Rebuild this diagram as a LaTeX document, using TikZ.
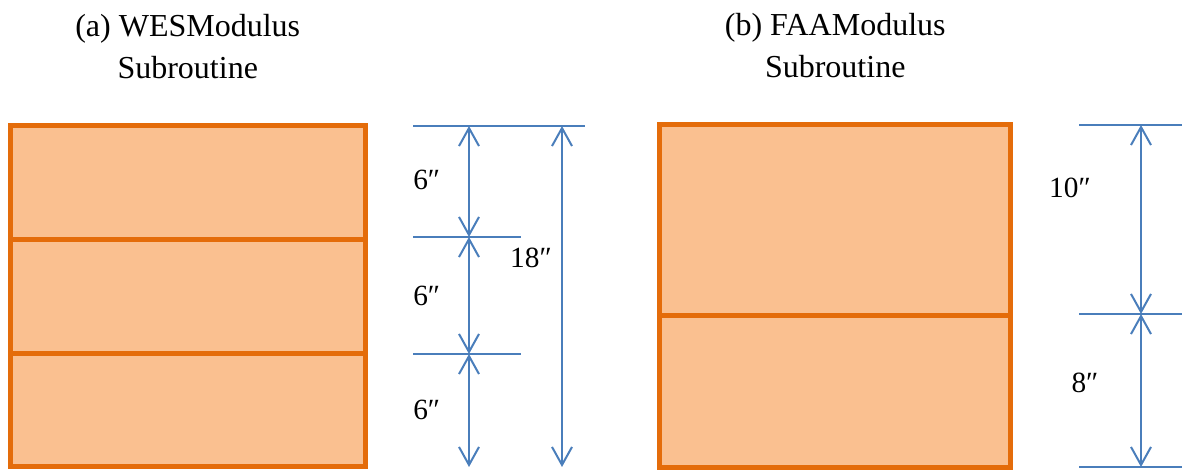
\documentclass[tikz,border=0pt]{standalone}
\usepackage{fontspec}
\setmainfont{Liberation Serif}
\usetikzlibrary{arrows.meta,positioning}
\definecolor{LayerOrange}{RGB}{228,108,10}
\definecolor{SoftOrange}{RGB}{250,192,144}
\definecolor{DimBlue}{RGB}{74,126,187}
\tikzset{
  layer/.style={draw=LayerOrange,fill=SoftOrange,line width=3.75pt,
    outer sep=0pt,inner sep=0pt},
  weslayer/.style={layer,minimum width=265.9pt,minimum height=85.25pt},
  faalayer/.style={layer,minimum width=263.6pt},
  title/.style={font=\fontsize{24}{31.5}\selectfont,align=center,inner sep=0pt},
  dimlabel/.style={font=\fontsize{22}{26}\selectfont,inner sep=0pt},
  dimline/.style={DimBlue,line width=1.5pt},
  dimarrow/.style={{Straight Barb[length=13.5pt,width=15pt]}-{Straight Barb[length=13.5pt,width=15pt]},
    DimBlue,line width=1.5pt}
}

\begin{document}
\begin{tikzpicture}[x=0.75pt,y=0.75pt,node distance=0pt]
  \useasboundingbox (0,0) rectangle (1182,470);

  % (a) three equal layers
  \node[weslayer] (wes1) at (187.75,287.2) {};
  \node[weslayer,below=of wes1] (wes2) {};
  \node[weslayer,below=of wes2] (wes3) {};
  \node[title,above=35pt of wes1] (titleA) {(a) WESModulus\\Subroutine};

  % (b) two layers, 10 over 8
  \node[faalayer,minimum height=142.9pt] (faa1) at (835.25,250.25) {};
  \node[faalayer,minimum height=114pt,below=of faa1] (faa2) {};
  \node[title,above=35pt of faa1] (titleB) {(b) FAAModulus\\Subroutine};

  % dimension points for (a)
  \coordinate (a0) at (469,344);
  \coordinate (a1) at (469,233);
  \coordinate (a2) at (469,116);
  \coordinate (a3) at (469,3);
  \coordinate (t0) at (562,344);
  \coordinate (t3) at (562,3);
  \coordinate (ea0) at (413,344);
  \coordinate (fa0) at (585,344);
  \coordinate (ea1) at (413,233);
  \coordinate (fa1) at (521,233);
  \coordinate (ea2) at (413,116);
  \coordinate (fa2) at (521,116);

  \draw[dimline] (ea0) -- (fa0);
  \draw[dimline] (ea1) -- (fa1);
  \draw[dimline] (ea2) -- (fa2);
  \draw[dimarrow] (a0) -- (a1);
  \draw[dimarrow] (a1) -- (a2);
  \draw[dimarrow] (a2) -- (a3);
  \draw[dimarrow] (t0) -- (t3);
  \node[dimlabel,anchor=west] (la1) at (413,290) {6″};
  \node[dimlabel,anchor=west] (la2) at (413,174) {6″};
  \node[dimlabel,anchor=west] (la3) at (413,60) {6″};
  \node[dimlabel,anchor=east] (lat) at (552,212) {18″};

  % dimension points for (b)
  \coordinate (b0) at (1141,345);
  \coordinate (b1) at (1141,156);
  \coordinate (b2) at (1141,3);
  \coordinate (eb0) at (1079,345);
  \coordinate (fb0) at (1182,345);
  \coordinate (eb1) at (1079,156);
  \coordinate (fb1) at (1182,156);
  \coordinate (eb2) at (1079,3);
  \coordinate (fb2) at (1182,3);

  \draw[dimline] (eb0) -- (fb0);
  \draw[dimline] (eb1) -- (fb1);
  \draw[dimline] (eb2) -- (fb2);
  \draw[dimarrow] (b0) -- (b1);
  \draw[dimarrow] (b1) -- (b2);
  \node[dimlabel] (lb1) at (1070,282) {10″};
  \node[dimlabel] (lb2) at (1085,87) {8″};
\end{tikzpicture}
\end{document}
